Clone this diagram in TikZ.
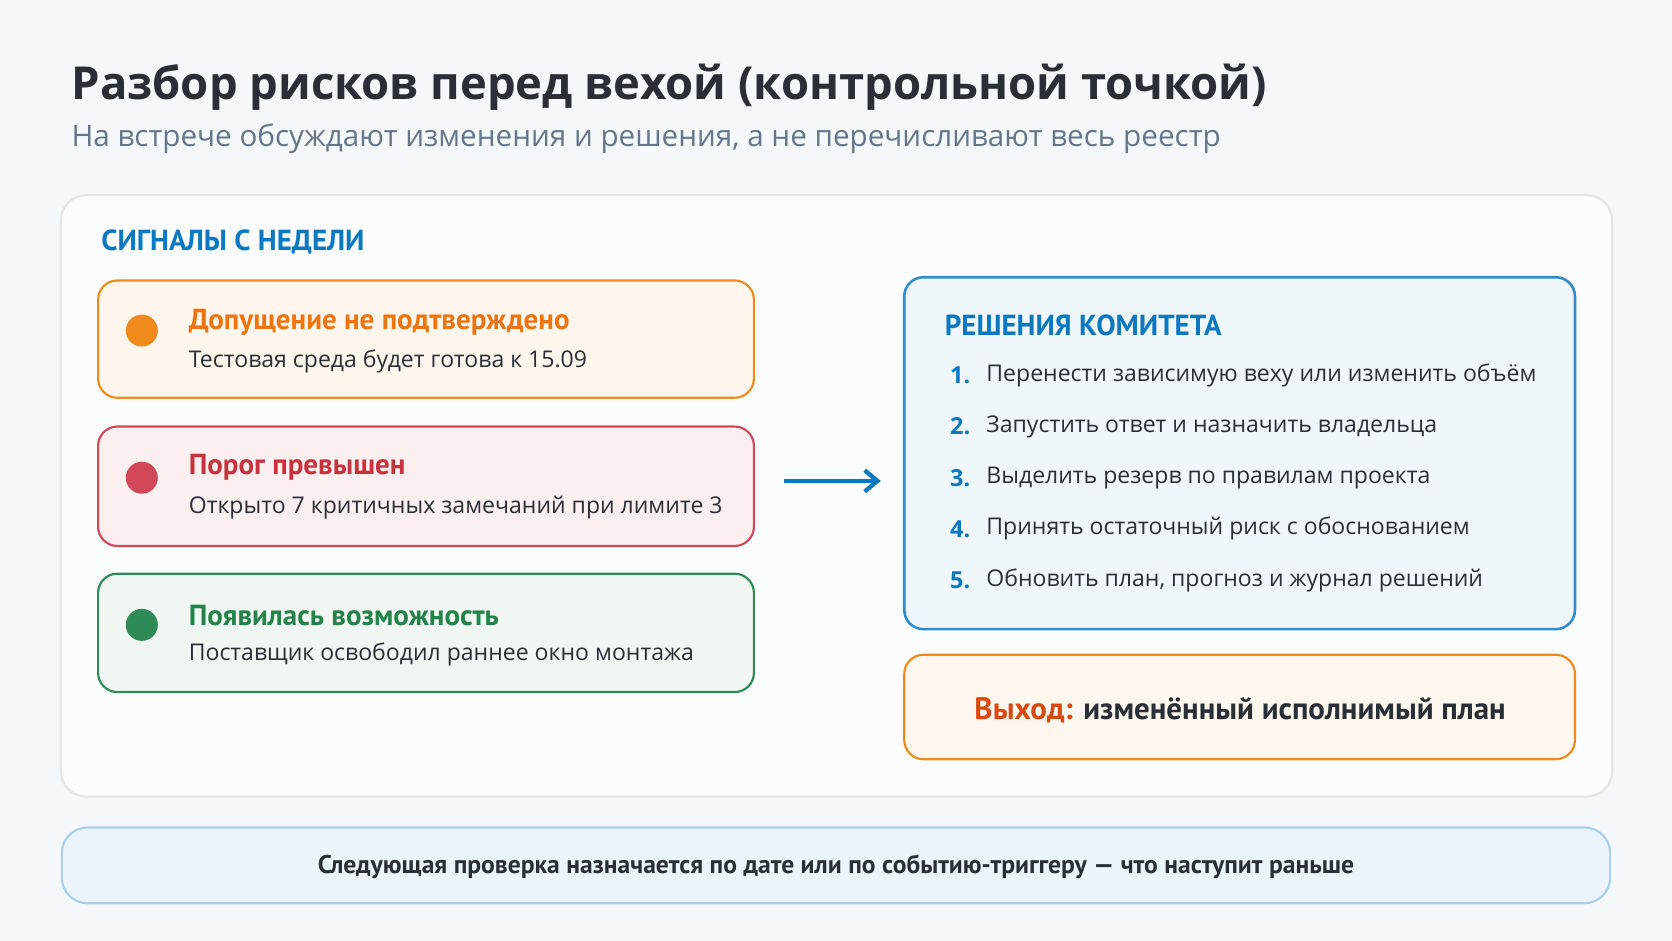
\documentclass[tikz,border=0pt]{standalone}
\usepackage{fontspec}
\setmainfont{Open Sans}
\newfontfamily\hfont{PT Sans}
\usetikzlibrary{arrows.meta}
\definecolor{bg}{HTML}{F5F8FB}
\definecolor{ink}{HTML}{2A2F36}
\definecolor{sub}{HTML}{66758A}
\definecolor{blu}{HTML}{0B78C2}
\definecolor{oran}{HTML}{F08A1C}
\definecolor{orant}{HTML}{EE7410}
\definecolor{redb}{HTML}{D24858}
\definecolor{redt}{HTML}{C8323F}
\definecolor{grn}{HTML}{2E8B55}
\definecolor{grnt}{HTML}{24834A}
\begin{document}
\begin{tikzpicture}[x=0.5pt,y=-0.5pt,
  card/.style={rounded corners=9pt,line width=1pt},
  dot/.style={circle,minimum size=15pt,inner sep=0pt},
  ttl/.style={anchor=west,font=\hfont\bfseries\fontsize{13.6}{15}\selectfont},
  txt/.style={anchor=west,text=ink,font=\fontsize{10.8}{12}\selectfont},
  num/.style={anchor=west,text=blu,font=\bfseries\fontsize{11}{13}\selectfont}]
\path[fill=bg] (0,0) rectangle (1568,882);
\useasboundingbox (0,0) rectangle (1568,882);
\node[anchor=west,text=ink,font=\bfseries\fontsize{21.3}{26}\selectfont] (title) at (60,82) {Разбор рисков перед вехой (контрольной точкой)};
\node[anchor=west,text=sub,font=\fontsize{13.9}{16}\selectfont] (subt) at (60,130) {На встрече обсуждают изменения и решения, а не перечисливают весь реестр};
\draw[card,fill=white!60!bg,draw=black!10,rounded corners=12pt] (57,183) rectangle (1512,747);
\node[ttl,text=blu] (sig) at (88,227) {СИГНАЛЫ С НЕДЕЛИ};
% box1
\draw[card,draw=oran,fill=oran!8] (92,263) rectangle (707,373);
\node[dot,fill=oran] (d1) at (133,310) {};
\node[ttl,text=orant] (t1) at (170,302) {Допущение не подтверждено};
\node[txt] (s1) at (170,339) {Тестовая среда будет готова к 15.09};
% box2
\draw[card,draw=redb,fill=redb!9] (92,400) rectangle (707,512);
\node[dot,fill=redb] (d2) at (133,448) {};
\node[ttl,text=redt] (t2) at (170,438) {Порог превышен};
\node[txt] (s2) at (170,476) {Открыто 7 критичных замечаний при лимите 3};
% box3
\draw[card,draw=grn,fill=grn!7] (92,538) rectangle (707,649);
\node[dot,fill=grn] (d3) at (133,586) {};
\node[ttl,text=grnt] (t3) at (170,577) {Появилась возможность};
\node[txt] (s3) at (170,614) {Поставщик освободил раннее окно монтажа};
% arrow
\coordinate (a1) at (735,451); \coordinate (a2) at (826,451);
\draw[blu,line width=2pt,-{Straight Barb[length=6pt,width=10pt]}] (a1) -- (a2);
% decisions
\draw[card,draw=blu!85,fill=blu!6,line width=1.2pt] (848,260) rectangle (1477,590);
\node[ttl,text=blu] (dh) at (879,305) {РЕШЕНИЯ КОМИТЕТА};
\foreach \i/\t [count=\k] in {352/Перенести зависимую веху или изменить объём,400/Запустить ответ и назначить владельца,448/Выделить резерв по правилам проекта,496/Принять остаточный риск с обоснованием,544/{Обновить план, прогноз и журнал решений}}{
  \node[num] (n\k) at (884,\i) {\k.};
  \node[txt] (i\k) at (918,\i) {\t};
}
% output
\draw[card,draw=oran,fill=oran!7] (848,614) rectangle (1477,712);
\node[font=\hfont\bfseries\fontsize{14.5}{17}\selectfont,text=ink] (out) at (1163,666) {\textcolor[HTML]{D84A10}{Выход:} изменённый исполнимый план};
% footer
\draw[card,draw=blu!35,fill=blu!8,rounded corners=12pt] (58,776) rectangle (1510,847);
\node[font=\hfont\bfseries\fontsize{12}{14}\selectfont,text=ink] (foot) at (784,813) {Следующая проверка назначается по дате или по событию-триггеру — что наступит раньше};
\end{tikzpicture}
\end{document}
